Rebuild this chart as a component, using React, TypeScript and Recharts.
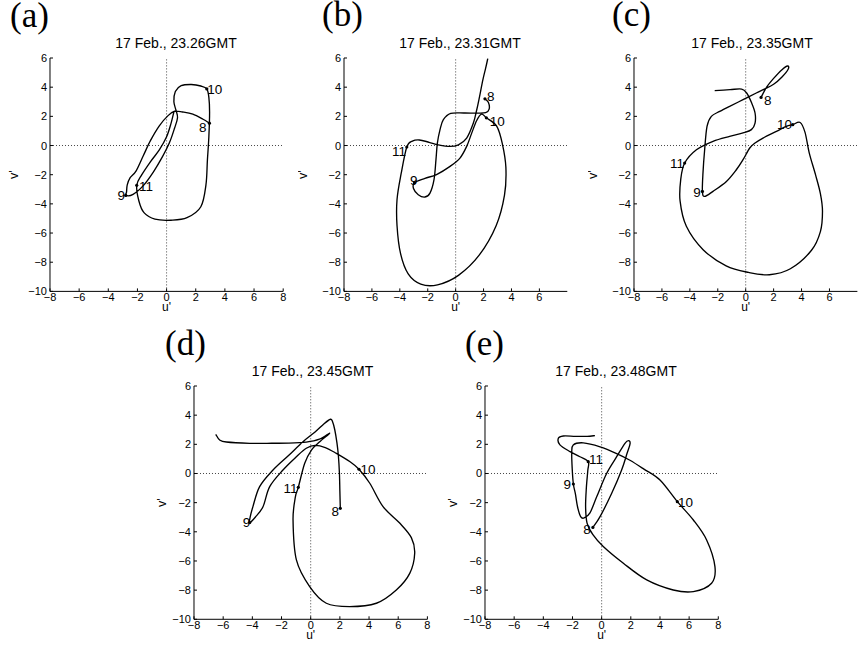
import React from 'react';
import {
  LineChart,
  Line,
  XAxis,
  YAxis,
  ReferenceLine,
  ReferenceDot,
} from 'recharts';

type Pt = [number, number];

// axis ticks
const X_TICKS = [-8, -6, -4, -2, 0, 2, 4, 6, 8];
const X_TICKS_CUT = [-8, -6, -4, -2, 0, 2, 4, 6];
const Y_TICKS = [-10, -8, -6, -4, -2, 0, 2, 4, 6];

const TITLES = [
  '17 Feb., 23.26GMT',
  '17 Feb., 23.31GMT',
  '17 Feb., 23.35GMT',
  '17 Feb., 23.45GMT',
  '17 Feb., 23.48GMT',
];
const LETTERS = ['(a)', '(b)', '(c)', '(d)', '(e)'];
const MARK_NAMES = ['8', '9', '10', '11'];

// hodographs (u', v') in height order
const hodoA: Pt[] = [
  [2.94, 1.53], [2.5, 1.8], [1.8, 2.15], [1.1, 2.3], [0.55, 2.35], [0.1, 2.05],
  [-0.5, 1.35], [-1.1, 0.35], [-1.6, -0.7], [-2.1, -1.75], [-2.5, -2.2], [-2.7, -2.7],
  [-2.75, -3.2], [-2.8, -3.42], [-2.3, -3.35], [-1.6, -2.75], [-0.9, -1.8], [-0.3, -0.8],
  [0.2, 0.2], [0.55, 1.2], [0.75, 1.9], [0.65, 2.4], [0.5, 3.0], [0.6, 3.7], [1.0, 4.1],
  [1.7, 4.18], [2.35, 4.08], [2.76, 3.88], [2.9, 3.3], [2.95, 2.3], [2.9, 0.6], [2.8, -1.0],
  [2.7, -2.7], [2.35, -4.2], [1.4, -4.95], [0.3, -5.12], [-0.8, -5.05], [-1.55, -4.6],
  [-1.9, -3.8], [-2.05, -2.73], [-1.7, -2.0], [-1.1, -1.1], [-0.5, -0.3], [0.0, 0.6],
  [0.3, 1.5], [0.5, 2.3],
];
const marksA: Pt[] = [[2.94, 1.53], [-2.8, -3.42], [2.76, 3.88], [-2.05, -2.73]];

const hodoB: Pt[] = [
  [2.1, 3.2], [2.35, 2.95], [2.4, 2.5], [2.15, 2.25], [1.5, 2.22], [0.6, 2.23], [-0.35, 2.2],
  [-0.88, 1.77], [-1.12, 1.09], [-1.31, 0.16], [-1.41, -0.97], [-1.55, -2.34], [-1.84, -3.26],
  [-2.2, -3.53], [-2.68, -3.37], [-3.02, -2.95], [-2.95, -2.55], [-2.2, -2.25], [-1.37, -1.99],
  [-0.4, -1.43], [0.31, -0.86], [0.79, -0.06], [1.15, 0.85], [1.5, 1.7], [1.85, 2.15],
  [2.2, 1.9], [2.95, 1.31], [3.35, 0.1], [3.6, -1.5], [3.5, -3.4], [2.9, -5.5], [1.7, -7.5],
  [0.2, -8.9], [-1.3, -9.55], [-2.5, -9.5], [-3.4, -8.8], [-3.95, -7.4], [-4.2, -5.5],
  [-4.2, -3.7], [-3.9, -1.9], [-3.5, -0.1], [-3.1, 0.3], [-2.6, 0.38], [-1.9, 0.22],
  [-1.24, 0.05], [-0.41, -0.06], [0.2, 0.05], [0.79, 0.51], [1.27, 1.54], [1.5, 2.4],
  [1.68, 3.2], [1.95, 4.5], [2.15, 5.3], [2.3, 5.95],
];
const marksB: Pt[] = [[2.1, 3.2], [-2.95, -2.55], [2.2, 1.9], [-3.5, -0.1]];

const hodoC: Pt[] = [
  [1.1, 3.3], [1.5, 4.0], [2.0, 4.6], [2.6, 5.2], [3.0, 5.45], [3.05, 5.25], [2.6, 4.7],
  [2.0, 4.2], [1.3, 3.85], [0.76, 3.6], [-0.19, 3.14], [-1.15, 2.69], [-1.86, 2.34],
  [-2.46, 2.0], [-2.77, 1.31], [-2.94, -0.29], [-3.06, -1.89], [-3.1, -3.15], [-2.94, -3.49],
  [-2.34, -3.14], [-1.38, -2.46], [-0.67, -1.66], [-0.19, -0.97], [0.29, -0.17], [0.67, 0.17],
  [1.24, 0.51], [2.2, 0.97], [2.91, 1.31], [3.37, 1.43], [3.9, 1.58], [4.25, 0.9], [4.55, -0.5],
  [5.0, -2.0], [5.35, -3.3], [5.5, -4.5], [5.35, -5.9], [4.7, -7.2], [3.2, -8.45], [1.7, -8.86],
  [0.2, -8.7], [-1.4, -8.25], [-3.05, -7.14], [-4.25, -5.54], [-4.7, -3.8], [-4.65, -2.3],
  [-4.37, -1.2], [-3.53, -0.29], [-2.34, 0.29], [-1.15, 0.63], [-0.19, 0.86], [0.41, 1.09],
  [0.67, 1.54], [0.67, 2.23], [0.43, 2.91], [0.07, 3.6], [-0.29, 3.87], [-1.12, 3.83],
  [-2.22, 3.76],
];
const marksC: Pt[] = [[1.1, 3.3], [-3.1, -3.15], [3.37, 1.43], [-4.37, -1.2]];

const hodoD: Pt[] = [
  [2.03, -2.39], [2.0, -1.2], [1.97, 0.0], [1.9, 1.2], [1.8, 2.1], [1.65, 3.0], [1.5, 3.55],
  [1.35, 3.72], [0.9, 3.4], [0.3, 2.85], [-0.53, 2.18], [-1.5, 1.25], [-2.58, 0.24],
  [-3.5, -0.9], [-3.96, -2.27], [-4.15, -3.0], [-4.18, -3.37], [-3.8, -3.0], [-3.27, -2.28],
  [-2.81, -0.9], [-1.9, 0.24], [-0.98, 1.15], [-0.3, 1.73], [0.3, 1.93], [1.0, 1.78],
  [1.76, 1.38], [2.7, 0.8], [3.31, 0.29], [4.05, -0.67], [4.96, -2.27], [6.1, -3.4],
  [6.9, -4.4], [7.13, -5.47], [6.79, -6.85], [5.87, -7.99], [4.5, -8.9], [2.67, -9.13],
  [1.07, -8.9], [-0.07, -7.76], [-0.98, -5.93], [-1.21, -3.19], [-1.05, -1.6], [-0.85, -0.95],
  [-0.41, 0.7], [0.05, 1.61], [0.62, 2.18], [1.3, 2.76], [0.6, 2.35], [-0.3, 2.15],
  [-1.5, 2.08], [-3.0, 2.07], [-4.18, 2.07], [-5.78, 2.16], [-6.24, 2.3], [-6.51, 2.69],
];
const marksD: Pt[] = [[2.03, -2.39], [-4.18, -3.37], [3.31, 0.29], [-0.85, -0.95]];

const hodoE: Pt[] = [
  [-0.6, -3.7], [-0.11, -2.96], [0.69, -1.36], [1.37, 0.24], [1.75, 1.4], [1.95, 2.05],
  [1.85, 2.25], [1.6, 2.07], [1.03, 1.15], [0.34, 0.0], [-0.34, -1.6], [-0.8, -2.7],
  [-1.2, -3.05], [-1.44, -2.96], [-1.65, -2.3], [-1.8, -1.4], [-1.94, -0.72], [-2.02, 0.34],
  [-2.05, 1.4], [-1.95, 1.95], [-1.26, 2.1], [-0.11, 1.83], [1.03, 1.37], [1.94, 0.91],
  [2.9, 0.3], [4.0, -0.45], [5.19, -1.93], [6.29, -3.19], [7.2, -4.56], [7.77, -6.39],
  [7.54, -7.53], [6.29, -8.1], [4.91, -7.99], [3.09, -7.3], [1.49, -6.16], [0.11, -5.01],
  [-0.6, -4.2], [-1.0, -3.4], [-1.1, -2.3], [-1.05, -1.0], [-0.95, 0.2], [-0.92, 0.81],
  [-1.49, 1.15], [-2.17, 1.5], [-2.86, 1.96], [-2.97, 2.41], [-2.63, 2.57], [-1.8, 2.55],
  [-1.0, 2.55], [-0.46, 2.6],
];
const marksE: Pt[] = [[-0.6, -3.7], [-1.94, -0.72], [5.19, -1.93], [-0.92, 0.81]];

// panel placement on the page (pixels)
const PANELS = [
  { data: hodoA, marks: marksA, xTicks: X_TICKS, left: 3.5, top: 53.3, width: 284.2, height: 260.4,
    titleX: 176, titleY: 43.3, letterX: 10, letterY: 0.5, vGap: 35.5,
    offs: [[-6.7, 4.3], [-4.5, 0.5], [8, 1], [9.3, 1]] },
  { data: hodoB, marks: marksB, xTicks: X_TICKS_CUT, left: 298, top: 53.3, width: 274.3, height: 260.4,
    titleX: 460, titleY: 43.3, letterX: 322, letterY: 0, vGap: 40.5,
    offs: [[5.7, -2.3], [-0.7, -2.7], [11, 3.3], [-7.7, 5]] },
  { data: hodoC, marks: marksC, xTicks: X_TICKS_CUT, left: 588.3, top: 53.3, width: 274.4, height: 260.4,
    titleX: 752, titleY: 43.3, letterX: 612, letterY: 0, vGap: 40.8,
    offs: [[6.7, 3], [-5.3, 1], [-8.3, 0], [-7.7, 0]] },
  { data: hodoD, marks: marksD, xTicks: X_TICKS, left: 148.3, top: 381, width: 284.4, height: 260.3,
    titleX: 312.5, titleY: 370.5, letterX: 165, letterY: 329.4, vGap: 31.8,
    offs: [[-5, 3.3], [-3.3, 0], [9, 0.7], [-7.7, 1]] },
  { data: hodoE, marks: marksE, xTicks: X_TICKS, left: 439, top: 381, width: 284.3, height: 260.3,
    titleX: 616, titleY: 370.5, letterX: 465, letterY: 329.4, vGap: 31.5,
    offs: [[-6, 1.7], [-6, 1], [8.3, 1], [7.7, -1.7]] },
];

const SANS = '"Liberation Sans", Arial, Helvetica, sans-serif';
const SERIF = '"Liberation Serif", "Times New Roman", serif';

const fmt = (v: number) => (v < 0 ? `\u2212${Math.abs(v)}` : `${v}`);

// Catmull-Rom interpolation so the traced path passes through every read point
const smoothCurve = (context: any) => {
  let pts: number[][] = [];
  return {
    areaStart() {},
    areaEnd() {},
    lineStart() {
      pts = [];
    },
    point(x: number, y: number) {
      pts.push([+x, +y]);
    },
    lineEnd() {
      const n = pts.length;
      if (!n) return;
      context.moveTo(pts[0][0], pts[0][1]);
      for (let i = 0; i < n - 1; i++) {
        const p0 = pts[Math.max(i - 1, 0)];
        const p1 = pts[i];
        const p2 = pts[i + 1];
        const p3 = pts[Math.min(i + 2, n - 1)];
        context.bezierCurveTo(
          p1[0] + (p2[0] - p0[0]) / 6,
          p1[1] + (p2[1] - p0[1]) / 6,
          p2[0] - (p3[0] - p1[0]) / 6,
          p2[1] - (p3[1] - p1[1]) / 6,
          p2[0],
          p2[1]
        );
      }
    },
  };
};

// MATLAB style ticks point inward
const XTick = (props: any) => {
  const { x, y, payload } = props;
  return (
    <g>
      <line x1={x} y1={y - 2} x2={x} y2={y - 5} stroke="#000" strokeWidth={1} />
      <text x={x} y={y + 8} textAnchor="middle" fontSize={11} fill="#000">
        {fmt(payload.value)}
      </text>
    </g>
  );
};

const YTick = (props: any) => {
  const { x, y, payload } = props;
  return (
    <g>
      <line x1={x + 3} y1={y} x2={x + 6} y2={y} stroke="#000" strokeWidth={1} />
      <text x={x} y={y + 4} textAnchor="end" fontSize={11} fill="#000">
        {fmt(payload.value)}
      </text>
    </g>
  );
};

const Panel = ({ cfg, idx }: { cfg: (typeof PANELS)[number]; idx: number }) => {
  const rows = cfg.data.map(([u, v]) => ({ u, v }));
  return (
    <>
      <div
        style={{
          position: 'absolute',
          left: cfg.letterX,
          top: cfg.letterY,
          fontFamily: SERIF,
          fontSize: 35,
          lineHeight: '30px',
          whiteSpace: 'nowrap',
        }}
      >
        {LETTERS[idx]}
      </div>
      <div
        style={{
          position: 'absolute',
          left: cfg.titleX - 100,
          width: 200,
          top: cfg.titleY - 6.85,
          textAlign: 'center',
          fontFamily: SANS,
          fontSize: 14,
          lineHeight: '14px',
          whiteSpace: 'nowrap',
        }}
      >
        {TITLES[idx]}
      </div>
      <div style={{ position: 'absolute', left: cfg.left, top: cfg.top }}>
        <LineChart
          width={cfg.width}
          height={cfg.height}
          data={rows}
          margin={{ top: 5, right: 5, bottom: 0, left: 0 }}
        >
          <XAxis
            type="number"
            dataKey="u"
            domain={[-8, 8]}
            allowDataOverflow
            ticks={cfg.xTicks}
            interval={0}
            tickSize={0}
            tickMargin={2}
            tickLine={false}
            tick={XTick}
            height={22}
            axisLine={{ stroke: '#000', strokeWidth: 1 }}
            label={(p: any) => (
              <text
                x={p.viewBox.x + p.viewBox.width / 2}
                y={p.viewBox.y + 19.5}
                textAnchor="middle"
                fontSize={12}
                fill="#000"
              >
                u'
              </text>
            )}
          />
          <YAxis
            type="number"
            dataKey="v"
            domain={[-10, 6]}
            allowDataOverflow
            ticks={Y_TICKS}
            interval={0}
            tickSize={0}
            tickMargin={3}
            tickLine={false}
            tick={YTick}
            width={46}
            axisLine={{ stroke: '#000', strokeWidth: 1 }}
            label={(p: any) => {
              const cx = p.viewBox.x + p.viewBox.width - cfg.vGap;
              const cy = p.viewBox.y + p.viewBox.height / 2;
              return (
                <text
                  x={cx}
                  y={cy}
                  transform={`rotate(-90 ${cx} ${cy})`}
                  textAnchor="middle"
                  dominantBaseline="central"
                  fontSize={12.5}
                  fill="#000"
                >
                  v'
                </text>
              );
            }}
          />
          <ReferenceLine x={0} stroke="#444" strokeWidth={1} strokeDasharray="1 2" />
          <ReferenceLine y={0} stroke="#444" strokeWidth={1} strokeDasharray="1 2" />
          <Line
            dataKey="v"
            type={smoothCurve as any}
            stroke="#000"
            strokeWidth={1.35}
            dot={false}
            activeDot={false}
            isAnimationActive={false}
          />
          {cfg.marks.map(([u, v], i) => (
            <ReferenceDot
              key={MARK_NAMES[i]}
              x={u}
              y={v}
              r={1.6}
              fill="#000"
              stroke="none"
              label={(p: any) => {
                const cx = p.viewBox.x + p.viewBox.width / 2;
                const cy = p.viewBox.y + p.viewBox.height / 2;
                return (
                  <text
                    x={cx + cfg.offs[i][0]}
                    y={cy + cfg.offs[i][1]}
                    textAnchor="middle"
                    dominantBaseline="central"
                    fontSize={13.5}
                    fill="#000"
                  >
                    {MARK_NAMES[i]}
                  </text>
                );
              }}
            />
          ))}
        </LineChart>
      </div>
    </>
  );
};

const App: React.FC = () => {
  return (
    <div
      style={{
        position: 'absolute',
        left: 0,
        top: 0,
        width: 861,
        height: 648,
        overflow: 'hidden',
        background: '#fff',
        fontFamily: SANS,
      }}
    >
      {PANELS.map((cfg, i) => (
        <Panel key={LETTERS[i]} cfg={cfg} idx={i} />
      ))}
    </div>
  );
};

export default App;
